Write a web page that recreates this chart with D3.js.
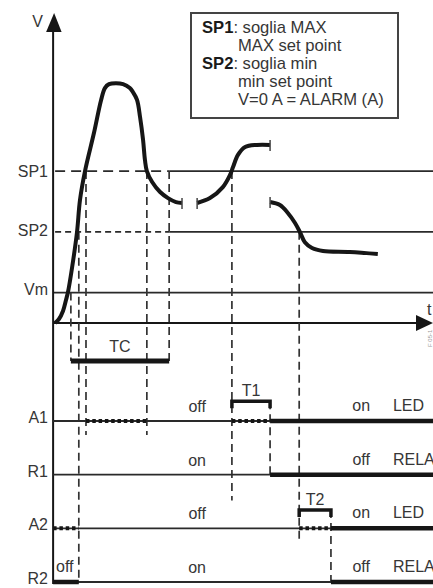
<!DOCTYPE html>
<html><head><meta charset="utf-8">
<script src="https://cdn.jsdelivr.net/npm/d3@7"></script>
<style>html,body{margin:0;padding:0;background:#fff;overflow:hidden} svg{display:block}</style>
</head><body><svg id="c" width="433" height="588"></svg>
<script>
// ---------- data ----------
const levelNames = ["SP1", "SP2", "Vm"];
const levelValues = [50, 30, 10];
const levelDashedUntil = [30.2, 30.2, null];

// measured signal V(t), three pieces (broken time axis)
const curveRise = [[0,0],[1.06,1.32],[2.12,3.95],[2.91,7.57],[3.44,10.2],[4.5,18.1],[5.82,29.9],[6.61,40.5],[7.94,50],[10.3,62.5],[12.2,73.4],[13.2,77.3],[14.3,78.6],[16.1,78.9],[18.0,78.6],[19.8,77.3],[20.6,76.0],[21.7,73.4],[22.5,67.8],[23.3,60.2],[23.8,53.6],[24.3,50],[25.7,46.4],[27.8,43.1],[29.9,41.1],[32.0,39.8],[33.6,39.5]];
const curveMid = [[37.6,39.5],[41.0,41.1],[44.4,44.7],[46.3,48.7],[47.1,51.3],[48.4,55.3],[50.3,57.9],[53.4,58.6],[56.9,58.6]];
const curveFall = [[56.9,39.8],[59.5,38.8],[61.6,36.2],[63.5,32.9],[64.8,29.9],[66.1,26.6],[68.0,24.7],[70.9,23.7],[78.0,23.4],[85.4,22.7]];

// digital outputs
const rows = ["A1", "R1", "A2", "R2"];
const A1segs = [[-0.5,100,"thin"],[8.2,24.3,"dot"],[46.8,56.9,"dot"],[56.9,100,"thick"]];
const R1segs = [[-0.5,100,"thin"],[56.9,100,"thick"]];
const A2segs = [[-0.5,100,"thin"],[-0.5,6.3,"dot"],[64.6,73.0,"dot"],[73.0,100,"thick"]];
const R2segs = [[-0.5,100,"thin"],[-0.5,6.3,"thick"],[73.0,100,"thick"]];
const stateLeft = ["off", "on", "off", "on"];
const stateRight = ["on", "off", "on", "off"];
const devices = ["LED", "RELAY", "LED", "RELAY"];

// timers
const timerNames = ["TC", "T1", "T2"];
const timerStart = [4.2, 46.8, 64.6];
const timerEnd = [30.2, 56.9, 73.0];
const timerLane = [-1.12, -0.37, 1.66];

// vertical guides
const guideT = [4.2, 6.3, 8.2, 24.3, 30.2, 46.8, 56.9, 64.6, 73.0];
const guideTopV = [10, 30, 50, 50, 50, 50, null, 30, null];
const guideTopLane = [null, null, null, null, null, null, -0.37, null, 1.66];
const guideBotLane = [-1.12, 3, 0.26, 0.26, -1.12, 1.48, 1, 2.25, 3];

const legendLines = [["SP1", ": soglia MAX"], ["", "MAX set point"], ["SP2", ": soglia min"], ["", "min set point"], ["", "V=0 A = ALARM (A)"]];

// ---------- drawing ----------
const FONT = "'Liberation Sans', Arial, Helvetica, sans-serif";
const TXT = "#363636";
const INK = "#161616";
const svg = d3.select("#c");
const x = d3.scaleLinear().domain([0, 100]).range([55, 433]);
const y = d3.scaleLinear().domain([0, 102]).range([323, 13]);
const lane = d3.scaleLinear().domain([0, 3]).range([421, 582]);
const T0 = -0.5;
const ax = x(T0);

// reference levels
levelValues.forEach((v, i) => {
  const dEnd = levelDashedUntil[i];
  if (dEnd !== null) {
    svg.append("line").attr("x1", ax + 2).attr("x2", x(dEnd)).attr("y1", y(v)).attr("y2", y(v))
      .attr("stroke", "#2a2a2a").attr("stroke-width", 1.8).attr("stroke-dasharray", i === 0 ? "10,6" : "6,4");
    svg.append("line").attr("x1", x(dEnd)).attr("x2", x(100)).attr("y1", y(v)).attr("y2", y(v))
      .attr("stroke", "#2a2a2a").attr("stroke-width", 1.8);
  } else {
    svg.append("line").attr("x1", ax).attr("x2", x(100)).attr("y1", y(v)).attr("y2", y(v))
      .attr("stroke", "#2a2a2a").attr("stroke-width", 1.8);
  }
  svg.append("text").attr("x", 48).attr("y", y(v) + (i === 0 ? 6 : i === 1 ? 4 : 2))
    .attr("text-anchor", "end").attr("font-family", FONT).attr("font-size", 16).attr("fill", TXT).text(levelNames[i]);
});

// time axis
svg.append("line").attr("x1", ax).attr("x2", x(100) - 12).attr("y1", y(0)).attr("y2", y(0))
  .attr("stroke", INK).attr("stroke-width", 2.2);
svg.append("path").attr("d", `M${x(100)},${y(0)} L${x(100) - 17},${y(0) - 8} L${x(100) - 17},${y(0) + 8} Z`).attr("fill", INK);
svg.append("text").attr("x", 427).attr("y", 315).attr("font-family", FONT).attr("font-size", 16).attr("fill", TXT).text("t");
svg.append("text").attr("transform", "translate(432,347) rotate(-90)").attr("font-family", FONT).attr("font-size", 6).attr("fill", "#9a9a9a").text("F 05-1");

// vertical axis
svg.append("line").attr("x1", ax).attr("x2", ax).attr("y1", 28).attr("y2", lane(3) + 2)
  .attr("stroke", INK).attr("stroke-width", 2);
svg.append("path").attr("d", `M${ax + 1},${13} L${ax - 7},${32} L${ax + 8.5},${32} Z`).attr("fill", INK);
svg.append("text").attr("x", 43).attr("y", 27).attr("text-anchor", "end").attr("font-family", FONT).attr("font-size", 16).attr("fill", TXT).text("V");

// guides
guideT.forEach((t, i) => {
  const top = guideTopV[i] !== null ? y(guideTopV[i]) : lane(guideTopLane[i]);
  svg.append("line").attr("x1", x(t)).attr("x2", x(t)).attr("y1", top).attr("y2", lane(guideBotLane[i]))
    .attr("stroke", "#333").attr("stroke-width", 1.7).attr("stroke-dasharray", "8,5");
});

// curve
const line = d3.line().x(d => x(d[0])).y(d => y(d[1])).curve(d3.curveCatmullRom.alpha(0.5));
[curveRise, curveMid, curveFall].forEach(c => {
  svg.append("path").attr("d", line(c)).attr("fill", "none").attr("stroke", INK).attr("stroke-width", 4);
});
// break ticks
[curveRise[curveRise.length - 1], curveMid[0], curveMid[curveMid.length - 1], curveFall[0]].forEach(p => {
  svg.append("line").attr("x1", x(p[0])).attr("x2", x(p[0])).attr("y1", y(p[1]) - 5).attr("y2", y(p[1]) + 6)
    .attr("stroke", "#444").attr("stroke-width", 1.5);
});

// digital rows
[A1segs, R1segs, A2segs, R2segs].forEach((segs, r) => {
  const yy = lane(r);
  segs.forEach(s => {
    const l = svg.append("line").attr("x1", x(s[0])).attr("x2", x(s[1])).attr("y1", yy).attr("y2", yy).attr("stroke", INK);
    if (s[2] === "thin") l.attr("stroke-width", 1.8).attr("stroke", "#2a2a2a");
    else if (s[2] === "thick") l.attr("stroke-width", 4.5);
    else l.attr("stroke-width", 4).attr("stroke-dasharray", "3.5,2.8");
  });
  svg.append("text").attr("x", 48).attr("y", yy + 2).attr("text-anchor", "end").attr("font-family", FONT).attr("font-size", 16).attr("fill", TXT).text(rows[r]);
  svg.append("text").attr("x", x(37.6)).attr("y", yy - 9).attr("text-anchor", "middle").attr("font-family", FONT).attr("font-size", 16).attr("fill", TXT).text(stateLeft[r]);
  svg.append("text").attr("x", x(81)).attr("y", yy - 10).attr("text-anchor", "middle").attr("font-family", FONT).attr("font-size", 16).attr("fill", TXT).text(stateRight[r]);
  svg.append("text").attr("x", x(89.4)).attr("y", yy - 10).attr("font-family", FONT).attr("font-size", 16).attr("fill", TXT).text(devices[r]);
});
svg.append("text").attr("x", x(2.6)).attr("y", lane(3) - 10).attr("text-anchor", "middle").attr("font-family", FONT).attr("font-size", 16).attr("fill", TXT).text("off");

// timers
timerNames.forEach((n, i) => {
  const yy = lane(timerLane[i]);
  const x0 = x(timerStart[i]), x1 = x(timerEnd[i]);
  if (i === 0) {
    svg.append("line").attr("x1", x0).attr("x2", x1).attr("y1", yy).attr("y2", yy).attr("stroke", INK).attr("stroke-width", 5);
    svg.append("text").attr("x", (x0 + x1) / 2).attr("y", yy - 9).attr("text-anchor", "middle").attr("font-family", FONT).attr("font-size", 16).attr("fill", TXT).text(n);
  } else {
    svg.append("path").attr("d", `M${x0},${yy + 7} L${x0},${yy} L${x1},${yy} L${x1},${yy + 7}`)
      .attr("fill", "none").attr("stroke", INK).attr("stroke-width", 3.5);
    svg.append("text").attr("x", (x0 + x1) / 2).attr("y", yy - 5).attr("text-anchor", "middle").attr("font-family", FONT).attr("font-size", 16).attr("fill", TXT).text(n);
  }
});

// legend
svg.append("rect").attr("x", 191).attr("y", 13).attr("width", 207).attr("height", 105)
  .attr("fill", "#fff").attr("stroke", "#444").attr("stroke-width", 2);
legendLines.forEach((ln, i) => {
  const t = svg.append("text").attr("x", ln[0] ? 202 : 238).attr("y", 33 + i * 18)
    .attr("font-family", FONT).attr("font-size", 16.6).attr("fill", TXT);
  if (ln[0]) t.append("tspan").attr("font-weight", "bold").attr("fill", "#1a1a1a").text(ln[0]);
  t.append("tspan").text(ln[1]);
});
</script>
</body></html>
